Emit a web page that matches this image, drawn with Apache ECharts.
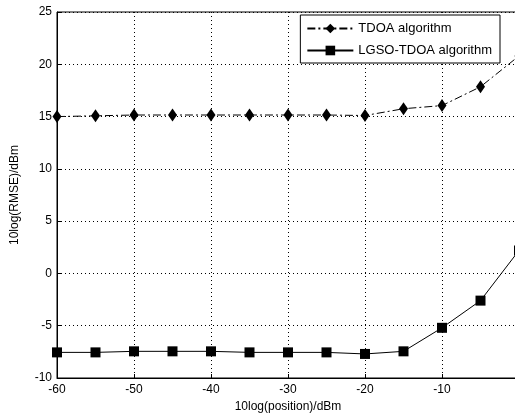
<!DOCTYPE html>
<html>
<head>
<meta charset="utf-8">
<script src="https://cdn.jsdelivr.net/npm/echarts@6/dist/echarts.min.js"></script>
<style>
  html, body { margin: 0; padding: 0; background: #fff; }
  #chart { width: 515px; height: 416px; }
</style>
</head>
<body>
<div id="chart"></div>
<script>
// x values (10log(position), dBm)
var positions = [-60, -55, -50, -45, -40, -35, -30, -25, -20, -15, -10, -5, 0];
// 10log(RMSE)
var tdoaValues = [15.0, 15.07, 15.15, 15.15, 15.15, 15.15, 15.15, 15.15, 15.1, 15.75, 16.05, 17.85, 20.8];
var lgsoValues = [-7.55, -7.55, -7.45, -7.45, -7.45, -7.55, -7.55, -7.55, -7.7, -7.45, -5.2, -2.6, 2.2];

var seriesNames = ['TDOA algorithm', 'LGSO-TDOA algorithm'];

function pairs(xs, ys) {
    return xs.map(function (x, i) { return [x, ys[i]]; });
}

var myChart = echarts.init(document.getElementById('chart'));

var font = 'Liberation Sans, Arial, sans-serif';

var option = {
    animation: false,
    backgroundColor: '#fff',
    grid: {
        left: 57,
        top: 12,
        width: 462,
        height: 366,
        outerBoundsMode: 'none',
        containLabel: false,
        show: true,
        borderColor: '#000',
        borderWidth: 1
    },
    legend: {
        orient: 'vertical',
        right: 15,
        top: 15,
        itemWidth: 46,
        itemHeight: 12,
        itemGap: 9,
        padding: [7, 8, 6, 6],
        backgroundColor: '#fff',
        borderColor: '#000',
        borderWidth: 1,
        borderRadius: 0,
        textStyle: { fontFamily: font, fontSize: 13, color: '#000' },
        data: seriesNames
    },
    xAxis: {
        type: 'value',
        min: -60,
        max: 0,
        interval: 10,
        name: '10log(position)/dBm',
        nameLocation: 'middle',
        nameGap: 22,
        nameTextStyle: { fontFamily: font, fontSize: 12, color: '#000' },
        axisLine: { onZero: false, lineStyle: { color: '#000' } },
        axisTick: { inside: true, length: 4, lineStyle: { color: '#000' } },
        axisLabel: { fontFamily: font, fontSize: 12, color: '#000', margin: 6 },
        splitLine: { show: true, lineStyle: { color: '#000', type: [1, 3] } }
    },
    yAxis: {
        type: 'value',
        min: -10,
        max: 25,
        interval: 5,
        name: '10log(RMSE)/dBm',
        nameLocation: 'middle',
        nameGap: 36,
        nameTextStyle: { fontFamily: font, fontSize: 12, color: '#000' },
        axisLine: { show: true, onZero: false, lineStyle: { color: '#000' } },
        axisTick: { show: true, inside: true, length: 4, lineStyle: { color: '#000' } },
        axisLabel: { fontFamily: font, fontSize: 12, color: '#000', margin: 5 },
        splitLine: { show: true, lineStyle: { color: '#000', type: [1, 3] } }
    },
    series: [
        {
            name: seriesNames[0],
            type: 'line',
            data: pairs(positions, tdoaValues),
            symbol: 'diamond',
            symbolSize: [9, 13],
            color: '#000',
            lineStyle: { color: '#000', width: 1, type: [8, 3, 2, 3] },
            itemStyle: { color: '#000' }
        },
        {
            name: seriesNames[1],
            type: 'line',
            data: pairs(positions, lgsoValues),
            symbol: 'rect',
            symbolSize: 10,
            color: '#000',
            lineStyle: { color: '#000', width: 1 },
            itemStyle: { color: '#000' }
        }
    ]
};

myChart.setOption(option);
</script>
</body>
</html>
